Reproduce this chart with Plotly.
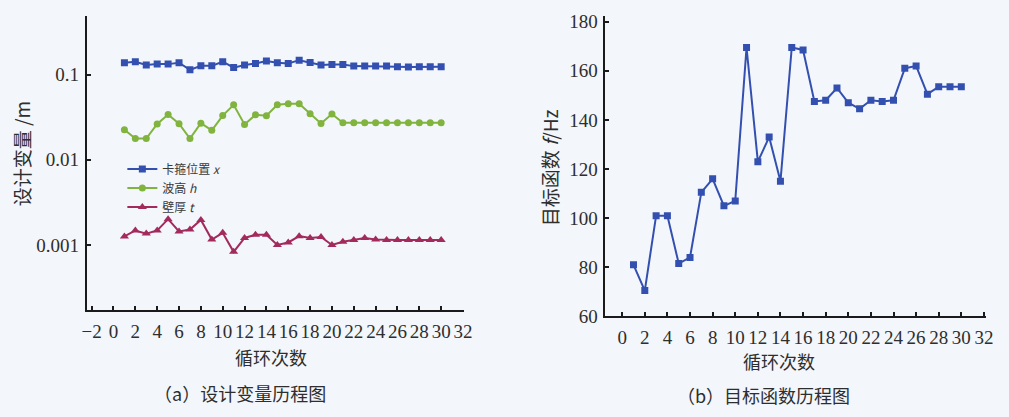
import plotly.graph_objects as go

# Loop iteration index shared by both panels
iterations = list(range(1, 31))

# (a) design variables, metres
clamp_position_x = [0.138, 0.142, 0.130, 0.133, 0.133, 0.138, 0.114, 0.127, 0.127, 0.142,
                    0.121, 0.130, 0.135, 0.145, 0.138, 0.135, 0.148, 0.139, 0.130, 0.132,
                    0.132, 0.126, 0.126, 0.126, 0.126, 0.124, 0.123, 0.124, 0.124, 0.124]
wave_height_h = [0.0226, 0.0178, 0.0178, 0.0264, 0.0341, 0.0266, 0.0178, 0.0269, 0.0222, 0.0331,
                 0.0442, 0.0260, 0.0338, 0.0329, 0.0444, 0.0456, 0.0456, 0.0347, 0.0267, 0.0345,
                 0.0272, 0.0272, 0.0272, 0.0272, 0.0272, 0.0272, 0.0272, 0.0272, 0.0272, 0.0272]
wall_thickness_t = [0.00126, 0.00148, 0.00136, 0.00148, 0.00201, 0.00144, 0.00152, 0.00197, 0.00116, 0.00139,
                    0.00083, 0.00121, 0.00132, 0.00132, 0.00100, 0.00107, 0.00127, 0.00121, 0.00124, 0.00100,
                    0.00109, 0.00114, 0.00121, 0.00116, 0.00114, 0.00114, 0.00114, 0.00114, 0.00114, 0.00114]

# (b) objective function, Hz
objective_f = [81.0, 70.5, 101.0, 101.0, 81.5, 84.0, 110.5, 116.0, 105.0, 107.0,
               169.5, 123.0, 133.0, 115.0, 169.5, 168.5, 147.5, 148.0, 153.0, 147.0,
               144.5, 148.0, 147.5, 148.0, 161.0, 162.0, 150.5, 153.5, 153.5, 153.5]

x_ticks = list(range(-2, 33, 2))
x_ticks_b = list(range(0, 33, 2))
log_ticks = [0.001, 0.01, 0.1]
log_tick_text = ["0.001", "0.01", "0.1"]
f_ticks = list(range(60, 181, 20))

SERIF = "Times New Roman, Liberation Serif, serif"
CJK = "Noto Sans CJK SC"
INK = "#2e2e2e"

BLUE = "#3350b0"
GREEN = "#80b43e"
RED = "#a32a5c"

W, H = 1009, 417


def px_x(v):
    return v / W


def px_y(v):
    return 1 - v / H


fig = go.Figure()

fig.add_trace(go.Scatter(
    x=iterations, y=clamp_position_x, mode="lines+markers",
    name="卡箍位置 <i>x</i>",
    line=dict(color=BLUE, width=2),
    marker=dict(symbol="square", size=7, color=BLUE),
    xaxis="x", yaxis="y"))
fig.add_trace(go.Scatter(
    x=iterations, y=wave_height_h, mode="lines+markers",
    name="波高 <i>h</i>",
    line=dict(color=GREEN, width=2),
    marker=dict(symbol="circle", size=7, color=GREEN),
    xaxis="x", yaxis="y"))
fig.add_trace(go.Scatter(
    x=iterations, y=wall_thickness_t, mode="lines+markers",
    name="壁厚 <i>t</i>",
    line=dict(color=RED, width=2),
    marker=dict(symbol="triangle-up", size=8, color=RED),
    xaxis="x", yaxis="y"))

fig.add_trace(go.Scatter(
    x=iterations, y=objective_f, mode="lines+markers",
    showlegend=False,
    line=dict(color=BLUE, width=2),
    marker=dict(symbol="square", size=7, color=BLUE),
    xaxis="x2", yaxis="y2"))

axis_common = dict(
    showgrid=False, zeroline=False, showline=True, linecolor="#1a1a1a", linewidth=2,
    ticks="inside", ticklen=4, tickwidth=1.5, tickcolor="#1a1a1a", tickangle=0,
    tickfont=dict(family=SERIF, size=19, color=INK),
)

fig.update_layout(
    width=W, height=H,
    margin=dict(l=0, r=0, t=0, b=0),
    paper_bgcolor="#f3f6fa",
    plot_bgcolor="rgba(0,0,0,0)",
    font=dict(family=SERIF, color=INK),
    xaxis=dict(domain=[px_x(83), px_x(465)], anchor="y", range=[-2.44, 32.05],
               tickmode="array", tickvals=x_ticks, ticklabelstandoff=4, **axis_common),
    yaxis=dict(domain=[px_y(317), px_y(12)], anchor="x", type="log",
               range=[-3.759, -0.306], tickmode="array", tickvals=log_ticks,
               ticktext=log_tick_text, ticklabelstandoff=2, **axis_common),
    xaxis2=dict(domain=[px_x(608), px_x(995)], anchor="y2", range=[-1.56, 32.2],
                tickmode="array", tickvals=x_ticks_b, ticklabelstandoff=3, **axis_common),
    yaxis2=dict(domain=[px_y(324), px_y(12)], anchor="x2",
                range=[60, 182.5], tickmode="array", tickvals=f_ticks,
                ticklabelstandoff=1, **axis_common),
    legend=dict(x=px_x(119), y=px_y(156), xanchor="left", yanchor="top",
                bgcolor="rgba(0,0,0,0)", font=dict(family=CJK, size=12, color="#3a3a3a"),
                tracegroupgap=0, itemwidth=30),
    showlegend=True,
)


def label(text, x, y, size, angle=0):
    return dict(text=text, x=px_x(x), y=px_y(y), xref="paper", yref="paper",
                xanchor="center", yanchor="middle", textangle=angle, showarrow=False,
                font=dict(family=CJK, size=size, color=INK))


fig.update_layout(annotations=[
    label("循环次数", 270, 366, 18),
    label("循环次数", 785, 370, 18),
    label("设计变量 /m", 17, 155, 19, -90),
    label("目标函数 <i>f</i>/Hz", 553, 170, 19, -90),
    label("（a）设计变量历程图", 238, 403, 18),
    label("（b）目标函数历程图", 769, 406, 18),
])

fig.write_html("out.html")
